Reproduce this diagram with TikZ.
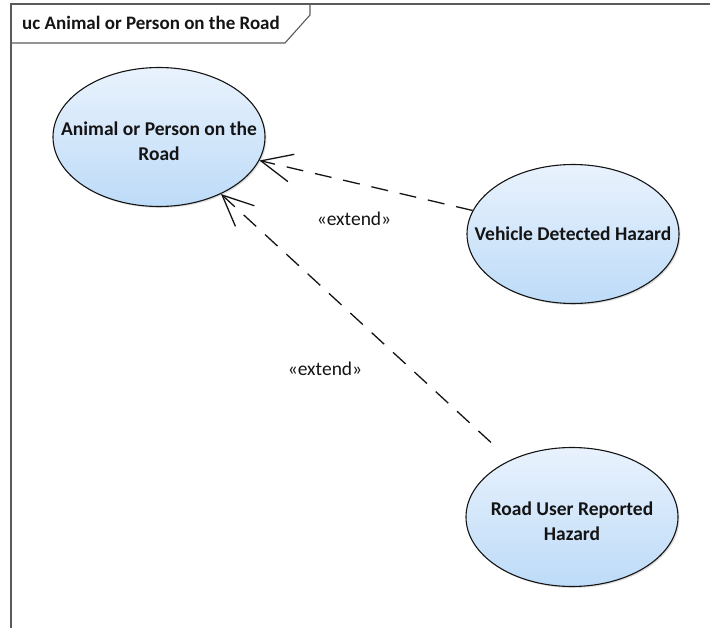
\documentclass[tikz,border=0pt]{standalone}
\usepackage{fontspec}
\setmainfont{Carlito}
\usetikzlibrary{shapes.geometric,arrows.meta,shadows}

\definecolor{ucTop}{RGB}{233,242,253}
\definecolor{ucBottom}{RGB}{189,219,248}
\definecolor{frameGray}{RGB}{90,90,90}
\definecolor{inkBlack}{RGB}{20,20,20}

\tikzset{
  usecase/.style={ellipse, draw=inkBlack, line width=1.1pt,
    top color=ucTop, bottom color=ucBottom,
    minimum width=212pt, minimum height=139pt, inner sep=0pt,
    drop shadow={shadow xshift=1.5pt, shadow yshift=-1.5pt, opacity=0.25}},
  uctext/.style={font=\fontsize{19.5}{25}\selectfont\bfseries, text=inkBlack,
    align=center, inner sep=0pt},
  extendline/.style={draw=inkBlack, line width=1.3pt,
    dash pattern=on 17pt off 12pt,
    -{Straight Barb[length=31pt, width=28pt, line width=1.3pt]}},
  stereo/.style={font=\fontsize{19.5}{22}\selectfont, text=inkBlack, inner sep=0pt},
  framestroke/.style={draw=frameGray, line width=1.1pt},
}

\begin{document}
\begin{tikzpicture}[x=1pt, y=-1pt]
  \useasboundingbox (0,0) rectangle (710,628);

  % diagram frame and name tab
  \draw[framestroke] (11,628) -- (11,4) -- (710,4);
  \draw[framestroke] (11,43) -- (285,43) -- (310,15) -- (310,4);
  \node[font=\fontsize{19}{22}\selectfont\bfseries, text=inkBlack,
        anchor=base west, inner sep=0pt] (title) at (22,30)
        {uc Animal or Person on the Road};

  % use cases
  \node[usecase] (aop) at (159,137) {};
  \node[uctext] (aoptext) at (159,141) {Animal or Person on the\\Road};

  \node[usecase] (vdh) at (573,234) {};
  \node[uctext] (vdhtext) at (573,234) {Vehicle Detected Hazard};

  \node[usecase] (rur) at (572,517) {};
  \node[uctext] (rurtext) at (572,521) {Road User Reported\\Hazard};

  % extend relationships
  \draw[extendline] (vdh) -- (aop);
  \draw[extendline, shorten <=26pt] (rur) -- (aop);

  \node[stereo] (ext1) at (354,219) {«extend»};
  \node[stereo] (ext2) at (325,369) {«extend»};
\end{tikzpicture}
\end{document}
